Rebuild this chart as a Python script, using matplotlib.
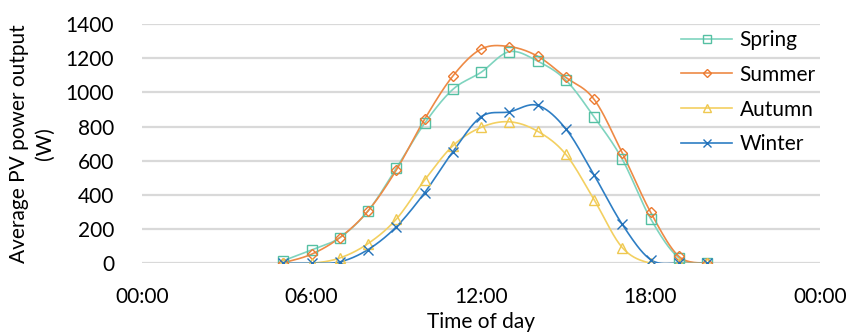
import matplotlib
matplotlib.use('Agg')
import matplotlib.pyplot as plt
import numpy as np

plt.rcParams['font.family'] = ['Lato', 'DejaVu Sans']

hours = [5, 6, 7, 8, 9, 10, 11, 12, 13, 14, 15, 16, 17, 18, 19, 20]
spring = [15, 78, 150, 306, 555, 818, 1017, 1117, 1238, 1183, 1072, 857, 609, 262, 33, 0]
summer = [3, 53, 150, 306, 545, 842, 1095, 1253, 1268, 1212, 1088, 960, 646, 300, 41, 0]
autumn = [0, 0, 31, 115, 258, 486, 687, 795, 828, 773, 638, 373, 92, 0, 0, 0]
winter = [0, 0, 8, 80, 213, 412, 652, 857, 886, 924, 787, 517, 228, 22, 0, 0]

names = ['Spring', 'Summer', 'Autumn', 'Winter']
colors = ['#7FD4BF', '#EE8A45', '#F3D061', '#2E7EC4']
edge_colors = ['#55C0A3', '#EC7A30', '#EFC850', '#2472BA']
markers = ['s', 'D', '^', 'x']
msizes = [7, 5.5, 7.5, 7.5]

xtick_pos = [0, 6, 12, 18, 24]
xtick_labels = ['00:00', '06:00', '12:00', '18:00', '00:00']
ytick_pos = [0, 200, 400, 600, 800, 1000, 1200, 1400]


def smooth(x, y, n=20):
    # catmull-rom style curve through the points, like Excel's smoothed line
    x = np.asarray(x, float)
    y = np.asarray(y, float)
    px = np.concatenate([[x[0]], x, [x[-1]]])
    py = np.concatenate([[y[0]], y, [y[-1]]])
    xs, ys = [], []
    t = np.linspace(0, 1, n)
    for i in range(1, len(px) - 2):
        p0, p1, p2, p3 = (np.array([px[j], py[j]]) for j in range(i - 1, i + 3))
        c1 = p1 + (p2 - p0) / 6
        c2 = p2 - (p3 - p1) / 6
        b = ((1 - t) ** 3)[:, None] * p1 + (3 * (1 - t) ** 2 * t)[:, None] * c1 \
            + (3 * (1 - t) * t ** 2)[:, None] * c2 + (t ** 3)[:, None] * p2
        xs.extend(b[:, 0])
        ys.extend(b[:, 1])
    return np.array(xs), np.array(ys)


fig = plt.figure(figsize=(8.48, 3.34), dpi=100)
ax = fig.add_axes([142 / 848, 1 - 263.3 / 334, (820 - 142) / 848, (263.3 - 24) / 334])

for data, name, c, ec, m, ms in zip([spring, summer, autumn, winter], names, colors,
                                     edge_colors, markers, msizes):
    sx, sy = smooth(hours, data)
    ax.plot(sx, sy, color=c, lw=1.2, zorder=3)
    ax.plot(hours, data, linestyle='none', marker=m, markersize=ms,
            markerfacecolor='none', markeredgecolor=ec, markeredgewidth=1.0, zorder=4)
    ax.plot([], [], color=c, lw=1.2, marker=m, markersize=ms * 0.75,
            markerfacecolor='none', markeredgecolor=ec, markeredgewidth=1.0, label=name)

ax.set_xlim(0, 24)
ax.set_ylim(0, 1400)
ax.set_xticks(xtick_pos)
ax.set_xticklabels(xtick_labels)
ax.set_yticks(ytick_pos)
ax.grid(axis='y', color='#D9D9D9', lw=1.6, zorder=0)
ax.set_axisbelow(True)
for s in ax.spines.values():
    s.set_visible(False)
ax.tick_params(length=0, labelsize=15, colors='black')
ax.tick_params(axis='y', pad=20)
ax.tick_params(axis='x', pad=17)
ax.set_xlabel('Time of day', fontsize=15, labelpad=4)
ax.set_ylabel('Average PV power output\n(W)', fontsize=15, linespacing=1.35, labelpad=8)

leg = ax.legend(loc='upper left', bbox_to_anchor=(0.783, 1.01), frameon=False, fontsize=15,
                handlelength=2.45, handletextpad=0.35, labelspacing=0.71, borderaxespad=0)

fig.savefig('out.png', dpi=100)
